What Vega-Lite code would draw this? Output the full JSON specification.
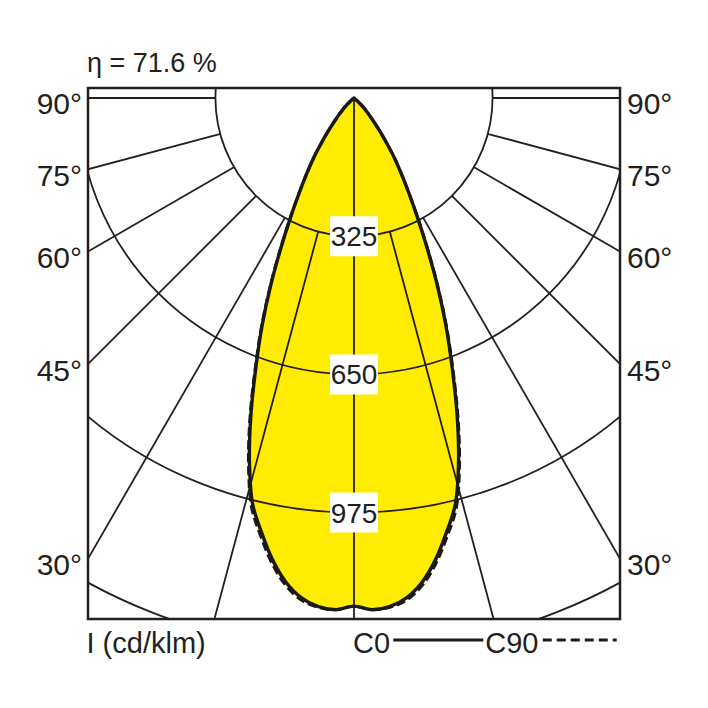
{
  "$schema": "https://vega.github.io/schema/vega-lite/v6.json",
  "width": 532,
  "height": 531,
  "autosize": {"type": "none"},
  "padding": {"left": 88, "top": 88, "right": 88, "bottom": 89},
  "background": "#ffffff",
  "view": {"fill": "#ffffff", "stroke": "#231f20", "strokeWidth": 2.5},
  "datasets": {
    "curve": [
      {"plane": "C0", "ang": -52, "I": 0}, {"plane": "C0", "ang": -47, "I": 20}, {"plane": "C0", "ang": -43, "I": 45},
      {"plane": "C0", "ang": -40, "I": 72}, {"plane": "C0", "ang": -38, "I": 97}, {"plane": "C0", "ang": -36, "I": 130},
      {"plane": "C0", "ang": -34, "I": 170}, {"plane": "C0", "ang": -32, "I": 210}, {"plane": "C0", "ang": -30, "I": 258},
      {"plane": "C0", "ang": -28, "I": 318}, {"plane": "C0", "ang": -26, "I": 392}, {"plane": "C0", "ang": -24, "I": 481},
      {"plane": "C0", "ang": -22, "I": 577}, {"plane": "C0", "ang": -20, "I": 675}, {"plane": "C0", "ang": -18, "I": 785},
      {"plane": "C0", "ang": -16, "I": 892}, {"plane": "C0", "ang": -14, "I": 985}, {"plane": "C0", "ang": -12, "I": 1045},
      {"plane": "C0", "ang": -10, "I": 1103}, {"plane": "C0", "ang": -8, "I": 1150}, {"plane": "C0", "ang": -6, "I": 1182},
      {"plane": "C0", "ang": -4, "I": 1199}, {"plane": "C0", "ang": -2, "I": 1204}, {"plane": "C0", "ang": 0, "I": 1195},
      {"plane": "C0", "ang": 2, "I": 1204}, {"plane": "C0", "ang": 4, "I": 1199}, {"plane": "C0", "ang": 6, "I": 1182},
      {"plane": "C0", "ang": 8, "I": 1150}, {"plane": "C0", "ang": 10, "I": 1103}, {"plane": "C0", "ang": 12, "I": 1045},
      {"plane": "C0", "ang": 14, "I": 985}, {"plane": "C0", "ang": 16, "I": 892}, {"plane": "C0", "ang": 18, "I": 785},
      {"plane": "C0", "ang": 20, "I": 675}, {"plane": "C0", "ang": 22, "I": 577}, {"plane": "C0", "ang": 24, "I": 481},
      {"plane": "C0", "ang": 26, "I": 392}, {"plane": "C0", "ang": 28, "I": 318}, {"plane": "C0", "ang": 30, "I": 258},
      {"plane": "C0", "ang": 32, "I": 210}, {"plane": "C0", "ang": 34, "I": 170}, {"plane": "C0", "ang": 36, "I": 130},
      {"plane": "C0", "ang": 38, "I": 97}, {"plane": "C0", "ang": 40, "I": 72}, {"plane": "C0", "ang": 43, "I": 45},
      {"plane": "C0", "ang": 47, "I": 20}, {"plane": "C0", "ang": 52, "I": 0},
      {"plane": "C90", "ang": -52, "I": 0}, {"plane": "C90", "ang": -47, "I": 20}, {"plane": "C90", "ang": -43, "I": 45},
      {"plane": "C90", "ang": -40, "I": 72}, {"plane": "C90", "ang": -38, "I": 97}, {"plane": "C90", "ang": -36, "I": 130},
      {"plane": "C90", "ang": -34, "I": 170}, {"plane": "C90", "ang": -32, "I": 210}, {"plane": "C90", "ang": -30, "I": 258},
      {"plane": "C90", "ang": -28, "I": 319}, {"plane": "C90", "ang": -26, "I": 394}, {"plane": "C90", "ang": -24, "I": 484},
      {"plane": "C90", "ang": -22, "I": 581}, {"plane": "C90", "ang": -20, "I": 681}, {"plane": "C90", "ang": -18, "I": 792},
      {"plane": "C90", "ang": -16, "I": 900}, {"plane": "C90", "ang": -14, "I": 994}, {"plane": "C90", "ang": -12, "I": 1054},
      {"plane": "C90", "ang": -10, "I": 1111}, {"plane": "C90", "ang": -8, "I": 1157}, {"plane": "C90", "ang": -6, "I": 1187},
      {"plane": "C90", "ang": -4, "I": 1201}, {"plane": "C90", "ang": -2, "I": 1204}, {"plane": "C90", "ang": 0, "I": 1195},
      {"plane": "C90", "ang": 2, "I": 1204}, {"plane": "C90", "ang": 4, "I": 1201}, {"plane": "C90", "ang": 6, "I": 1187},
      {"plane": "C90", "ang": 8, "I": 1157}, {"plane": "C90", "ang": 10, "I": 1111}, {"plane": "C90", "ang": 12, "I": 1054},
      {"plane": "C90", "ang": 14, "I": 994}, {"plane": "C90", "ang": 16, "I": 900}, {"plane": "C90", "ang": 18, "I": 792},
      {"plane": "C90", "ang": 20, "I": 681}, {"plane": "C90", "ang": 22, "I": 581}, {"plane": "C90", "ang": 24, "I": 484},
      {"plane": "C90", "ang": 26, "I": 394}, {"plane": "C90", "ang": 28, "I": 319}, {"plane": "C90", "ang": 30, "I": 258},
      {"plane": "C90", "ang": 32, "I": 210}, {"plane": "C90", "ang": 34, "I": 170}, {"plane": "C90", "ang": 36, "I": 130},
      {"plane": "C90", "ang": 38, "I": 97}, {"plane": "C90", "ang": 40, "I": 72}, {"plane": "C90", "ang": 43, "I": 45},
      {"plane": "C90", "ang": 47, "I": 20}, {"plane": "C90", "ang": 52, "I": 0}
    ],
    "rings": [{"r": 325}, {"r": 650}, {"r": 975}, {"r": 1300}],
    "spokes": [
      {"ang": -90, "r0": 325}, {"ang": -75, "r0": 325}, {"ang": -60, "r0": 325}, {"ang": -45, "r0": 325},
      {"ang": -30, "r0": 325}, {"ang": -15, "r0": 325}, {"ang": 0, "r0": 0}, {"ang": 15, "r0": 325},
      {"ang": 30, "r0": 325}, {"ang": 45, "r0": 325}, {"ang": 60, "r0": 325}, {"ang": 75, "r0": 325},
      {"ang": 90, "r0": 325}
    ],
    "ringLabels": [{"val": 325}, {"val": 650}, {"val": 975}],
    "angleLabels": [
      {"ang": 90, "lab": "90°"}, {"ang": 75, "lab": "75°"}, {"ang": 60, "lab": "60°"},
      {"ang": 45, "lab": "45°"}, {"ang": 30, "lab": "30°"}
    ],
    "one": [{}]
  },
  "layer": [
    {
      "data": {"name": "curve"},
      "transform": [
        {"calculate": "datum.I * sin(datum.ang * PI / 180)", "as": "cx"},
        {"calculate": "datum.I * cos(datum.ang * PI / 180)", "as": "cy"}
      ],
      "mark": {"type": "line", "fill": "#ffec00", "stroke": "transparent", "interpolate": "catmull-rom"},
      "encoding": {
        "x": {"field": "cx", "type": "quantitative", "axis": null, "scale": {"domain": [-625.6, 625.6], "nice": false, "zero": false}},
        "y": {"field": "cy", "type": "quantitative", "axis": null, "scale": {"domain": [-23.5, 1225.3], "reverse": true, "nice": false, "zero": false}},
        "order": {"field": "ang", "type": "quantitative"},
        "detail": {"field": "plane", "type": "nominal"}
      }
    },
    {
      "data": {"name": "rings"},
      "mark": {"type": "arc", "theta": 0, "theta2": 6.2832, "filled": false, "stroke": "#231f20", "strokeWidth": 1.8, "clip": true},
      "encoding": {
        "x": {"datum": 0, "type": "quantitative", "axis": null, "scale": {"domain": [-625.6, 625.6], "nice": false, "zero": false}},
        "y": {"datum": 0, "type": "quantitative", "axis": null, "scale": {"domain": [-23.5, 1225.3], "reverse": true, "nice": false, "zero": false}},
        "radius": {"field": "r", "type": "quantitative", "stack": null, "scale": {"type": "linear", "domain": [0, 1300], "range": [0, 552.75], "zero": true, "nice": false}}
      }
    },
    {
      "data": {"name": "spokes"},
      "transform": [
        {"calculate": "datum.r0 * sin(datum.ang * PI / 180)", "as": "sx"},
        {"calculate": "datum.r0 * cos(datum.ang * PI / 180)", "as": "sy"},
        {"calculate": "2000 * sin(datum.ang * PI / 180)", "as": "ex"},
        {"calculate": "2000 * cos(datum.ang * PI / 180)", "as": "ey"}
      ],
      "mark": {"type": "rule", "stroke": "#231f20", "strokeWidth": 1.8, "clip": true},
      "encoding": {
        "x": {"field": "sx", "type": "quantitative", "axis": null, "scale": {"domain": [-625.6, 625.6], "nice": false, "zero": false}},
        "y": {"field": "sy", "type": "quantitative", "axis": null, "scale": {"domain": [-23.5, 1225.3], "reverse": true, "nice": false, "zero": false}},
        "x2": {"field": "ex"},
        "y2": {"field": "ey"}
      }
    },
    {
      "data": {"name": "curve"},
      "transform": [
        {"filter": "datum.plane === 'C90'"},
        {"calculate": "datum.I * sin(datum.ang * PI / 180)", "as": "cx"},
        {"calculate": "datum.I * cos(datum.ang * PI / 180)", "as": "cy"}
      ],
      "mark": {"type": "line", "stroke": "#1a1a1a", "strokeWidth": 3, "strokeDash": [9, 4], "interpolate": "catmull-rom"},
      "encoding": {
        "x": {"field": "cx", "type": "quantitative", "axis": null, "scale": {"domain": [-625.6, 625.6], "nice": false, "zero": false}},
        "y": {"field": "cy", "type": "quantitative", "axis": null, "scale": {"domain": [-23.5, 1225.3], "reverse": true, "nice": false, "zero": false}},
        "order": {"field": "ang", "type": "quantitative"}
      }
    },
    {
      "data": {"name": "curve"},
      "transform": [
        {"filter": "datum.plane === 'C0'"},
        {"calculate": "datum.I * sin(datum.ang * PI / 180)", "as": "cx"},
        {"calculate": "datum.I * cos(datum.ang * PI / 180)", "as": "cy"}
      ],
      "mark": {"type": "line", "stroke": "#1a1a1a", "strokeWidth": 3.4, "strokeJoin": "round", "strokeCap": "round", "interpolate": "catmull-rom"},
      "encoding": {
        "x": {"field": "cx", "type": "quantitative", "axis": null, "scale": {"domain": [-625.6, 625.6], "nice": false, "zero": false}},
        "y": {"field": "cy", "type": "quantitative", "axis": null, "scale": {"domain": [-23.5, 1225.3], "reverse": true, "nice": false, "zero": false}},
        "order": {"field": "ang", "type": "quantitative"}
      }
    },
    {
      "data": {"name": "ringLabels"},
      "mark": {"type": "point", "shape": "M-1.2,-1H1.2V1H-1.2Z", "size": 1600, "filled": true, "fill": "#ffffff", "opacity": 1, "strokeWidth": 0},
      "encoding": {
        "x": {"datum": 0, "type": "quantitative", "axis": null, "scale": {"domain": [-625.6, 625.6], "nice": false, "zero": false}},
        "y": {"field": "val", "type": "quantitative", "axis": null, "scale": {"domain": [-23.5, 1225.3], "reverse": true, "nice": false, "zero": false}}
      }
    },
    {
      "data": {"name": "ringLabels"},
      "mark": {"type": "text", "font": "Liberation Sans", "fontSize": 28, "baseline": "middle", "align": "center", "dy": 2, "color": "#231f20"},
      "encoding": {
        "x": {"datum": 0, "type": "quantitative", "axis": null, "scale": {"domain": [-625.6, 625.6], "nice": false, "zero": false}},
        "y": {"field": "val", "type": "quantitative", "axis": null, "scale": {"domain": [-23.5, 1225.3], "reverse": true, "nice": false, "zero": false}},
        "text": {"field": "val", "type": "nominal"}
      }
    },
    {
      "data": {"name": "angleLabels"},
      "transform": [{"calculate": "625.6 * cos(datum.ang * PI / 180) / sin(datum.ang * PI / 180)", "as": "ly"}],
      "mark": {"type": "text", "font": "Liberation Sans", "fontSize": 30, "baseline": "middle", "align": "right", "dx": -6, "dy": 7.5, "color": "#231f20"},
      "encoding": {
        "x": {"datum": -625.6, "type": "quantitative", "axis": null, "scale": {"domain": [-625.6, 625.6], "nice": false, "zero": false}},
        "y": {"field": "ly", "type": "quantitative", "axis": null, "scale": {"domain": [-23.5, 1225.3], "reverse": true, "nice": false, "zero": false}},
        "text": {"field": "lab", "type": "nominal"}
      }
    },
    {
      "data": {"name": "angleLabels"},
      "transform": [{"calculate": "625.6 * cos(datum.ang * PI / 180) / sin(datum.ang * PI / 180)", "as": "ly"}],
      "mark": {"type": "text", "font": "Liberation Sans", "fontSize": 30, "baseline": "middle", "align": "left", "dx": 7, "dy": 7.5, "color": "#231f20"},
      "encoding": {
        "x": {"datum": 625.6, "type": "quantitative", "axis": null, "scale": {"domain": [-625.6, 625.6], "nice": false, "zero": false}},
        "y": {"field": "ly", "type": "quantitative", "axis": null, "scale": {"domain": [-23.5, 1225.3], "reverse": true, "nice": false, "zero": false}},
        "text": {"field": "lab", "type": "nominal"}
      }
    },
    {
      "data": {"name": "one"},
      "mark": {"type": "text", "text": "η = 71.6 %", "font": "Liberation Sans", "fontSize": 27, "baseline": "alphabetic", "align": "left", "dx": -1, "color": "#231f20"},
      "encoding": {
        "x": {"datum": -625.6, "type": "quantitative", "axis": null, "scale": {"domain": [-625.6, 625.6], "nice": false, "zero": false}},
        "y": {"datum": -61, "type": "quantitative", "axis": null, "scale": {"domain": [-23.5, 1225.3], "reverse": true, "nice": false, "zero": false}}
      }
    },
    {
      "data": {"name": "one"},
      "mark": {"type": "text", "text": "I (cd/klm)", "font": "Liberation Sans", "fontSize": 29, "baseline": "alphabetic", "align": "left", "dx": -1.5, "color": "#231f20"},
      "encoding": {
        "x": {"datum": -625.6, "type": "quantitative", "axis": null, "scale": {"domain": [-625.6, 625.6], "nice": false, "zero": false}},
        "y": {"datum": 1306, "type": "quantitative", "axis": null, "scale": {"domain": [-23.5, 1225.3], "reverse": true, "nice": false, "zero": false}}
      }
    },
    {
      "data": {"name": "one"},
      "mark": {"type": "text", "text": "C0", "font": "Liberation Sans", "fontSize": 29, "baseline": "alphabetic", "align": "left", "dx": -1, "color": "#231f20"},
      "encoding": {
        "x": {"datum": 0, "type": "quantitative", "axis": null, "scale": {"domain": [-625.6, 625.6], "nice": false, "zero": false}},
        "y": {"datum": 1306, "type": "quantitative", "axis": null, "scale": {"domain": [-23.5, 1225.3], "reverse": true, "nice": false, "zero": false}}
      }
    },
    {
      "data": {"name": "one"},
      "mark": {"type": "text", "text": "C90", "font": "Liberation Sans", "fontSize": 29, "baseline": "alphabetic", "align": "left", "color": "#231f20"},
      "encoding": {
        "x": {"datum": 308.6, "type": "quantitative", "axis": null, "scale": {"domain": [-625.6, 625.6], "nice": false, "zero": false}},
        "y": {"datum": 1306, "type": "quantitative", "axis": null, "scale": {"domain": [-23.5, 1225.3], "reverse": true, "nice": false, "zero": false}}
      }
    },
    {
      "data": {"name": "one"},
      "mark": {"type": "rule", "stroke": "#1a1a1a", "strokeWidth": 3.2},
      "encoding": {
        "x": {"datum": 92.4, "type": "quantitative", "axis": null, "scale": {"domain": [-625.6, 625.6], "nice": false, "zero": false}},
        "x2": {"datum": 304.1},
        "y": {"datum": 1274.7, "type": "quantitative", "axis": null, "scale": {"domain": [-23.5, 1225.3], "reverse": true, "nice": false, "zero": false}}
      }
    },
    {
      "data": {"name": "one"},
      "mark": {"type": "rule", "stroke": "#1a1a1a", "strokeWidth": 3.2, "strokeDash": [9, 5]},
      "encoding": {
        "x": {"datum": 443.9, "type": "quantitative", "axis": null, "scale": {"domain": [-625.6, 625.6], "nice": false, "zero": false}},
        "x2": {"datum": 617.8},
        "y": {"datum": 1274.7, "type": "quantitative", "axis": null, "scale": {"domain": [-23.5, 1225.3], "reverse": true, "nice": false, "zero": false}}
      }
    }
  ]
}
